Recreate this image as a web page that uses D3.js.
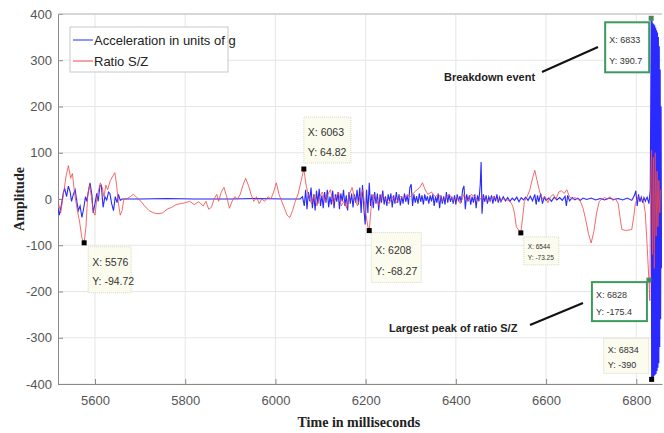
<!DOCTYPE html>
<html>
<head>
<meta charset="utf-8">
<script src="https://cdn.jsdelivr.net/npm/d3@7"></script>
<style>
  body { margin: 0; background: #fff; }
  svg { display: block; }
</style>
</head>
<body>
<div id="chart"></div>
<script>
// Acceleration in units of g: [time in ms, amplitude]
const accel = [
  [5518, -20], [5521, -35], [5526, -10], [5530, 15], [5533, 22], [5537, 5], [5541, 28], [5545, 15],
  [5548, -5], [5552, 10], [5556, 20], [5559, 0], [5563, -25], [5567, -15], [5571, -40], [5575, -20],
  [5579, 5], [5582, -5], [5586, 20], [5589, 35], [5593, 10], [5596, -30], [5600, -10], [5604, 12],
  [5607, -5], [5611, 28], [5614, 30], [5618, -18], [5622, 5], [5626, -2], [5630, 15], [5633, 12],
  [5637, -10], [5641, -25], [5645, 5], [5649, -8], [5652, 10], [5656, -3], [5660, 0], [5700, 0],
  [5760, 1], [5820, 0], [5900, 0], [5960, 1], [6020, 0], [6055, 0],
  [6060, 5], [6064, -15], [6067, 20], [6070, -22], [6073, 15], [6076, -5], [6079, 25], [6082, -20],
  [6085, 10], [6088, -25], [6091, 18], [6094, -10], [6097, 22], [6100, -15], [6103, 8], [6106, -20],
  [6109, 15], [6112, -8], [6115, 20], [6118, -18], [6121, 5], [6124, -12], [6127, 18], [6130, -20],
  [6133, 10], [6136, -6], [6139, 15], [6142, -22], [6145, 12], [6148, -5], [6151, 20], [6154, -15],
  [6157, 8], [6160, -25], [6163, 15], [6166, -10], [6169, 12], [6172, -18], [6175, 10], [6178, -8],
  [6181, 20], [6184, -12], [6187, 25], [6190, -30], [6193, 30], [6196, -20], [6199, -55], [6202, 20],
  [6205, -30], [6208, 35], [6211, -15], [6214, 10], [6217, -20], [6220, 15], [6223, -10], [6226, 12],
  [6229, -25], [6232, 10], [6235, -8], [6238, 18], [6241, -12], [6244, 6], [6247, -15], [6250, 10],
  [6253, -5], [6256, 12], [6259, -18], [6262, 8], [6265, -10], [6268, 15], [6271, -8], [6274, 10],
  [6277, -14], [6280, 6], [6283, -10], [6286, 12], [6289, -6], [6292, 8], [6295, -12], [6298, 25],
  [6301, 32], [6304, -15], [6307, 10], [6310, -8], [6313, 6], [6316, -10], [6319, 12], [6322, -6],
  [6325, 8], [6328, -12], [6331, 10], [6334, -4], [6337, 6], [6340, -10], [6343, 8], [6346, -5],
  [6349, 10], [6352, -15], [6355, 5], [6358, -8], [6361, 12], [6364, -20], [6367, 8], [6370, -10],
  [6373, 6], [6376, -12], [6379, 15], [6382, -8], [6385, 10], [6388, -6], [6391, 5], [6394, -10],
  [6397, 8], [6400, -12], [6403, 10], [6406, -5], [6409, 6], [6412, -8], [6415, 20], [6418, 28],
  [6421, -22], [6424, 10], [6427, -5], [6430, 8], [6433, -12], [6436, 5], [6439, -8], [6442, 10],
  [6445, -20], [6448, 8], [6451, -5], [6454, 30], [6456, 80], [6458, -32], [6461, 10], [6464, -6],
  [6467, 8], [6470, -10], [6473, 5], [6476, -4], [6479, 8], [6482, -10], [6485, 6], [6488, -5],
  [6491, 10], [6494, -8], [6497, 4], [6500, -6], [6505, 5], [6510, -4], [6515, 3], [6520, -5],
  [6525, 2], [6530, -3], [6535, 4], [6540, -6], [6545, 3], [6550, -2], [6555, 4], [6560, -3],
  [6565, 6], [6570, -4], [6575, 10], [6578, -12], [6581, 8], [6584, -6], [6588, 12], [6592, -10],
  [6596, 4], [6600, -3], [6606, 2], [6612, -5], [6618, 4], [6624, -2], [6630, 3], [6636, -3],
  [6642, 6], [6645, -15], [6648, 8], [6652, -4], [6658, 3], [6664, -2], [6670, 2], [6676, -3],
  [6682, 2], [6690, -1], [6700, 2], [6710, -2], [6720, 1], [6730, -2], [6740, 2], [6750, -1],
  [6760, 1], [6770, -2], [6780, 2], [6790, -3], [6796, 8], [6799, 18], [6802, -15], [6805, 10],
  [6808, -6], [6811, 4], [6814, -8], [6817, 3], [6820, -5], [6824, 4], [6828, -10], [6831, 20],
  [6833, 390.7], [6834, -390], [6835, 385], [6836, -388], [6837, 380], [6838, -385], [6839, 378],
  [6840, -382], [6841, 375], [6842, -380], [6843, 370], [6844, -378], [6845, 365], [6846, -372],
  [6847, 360], [6848, -365], [6849, 350], [6850, -355], [6851, 330], [6852, -320], [6853, 280],
  [6854, -260], [6855, 200], [6856, -150]
];

// Ratio S/Z: [time in ms, amplitude]
const ratio = [
  [5518, -5], [5524, -30], [5530, 10], [5536, 50], [5541, 72], [5546, 45], [5550, 55], [5555, 10],
  [5560, -20], [5566, -50], [5571, -85], [5576, -94.72], [5580, -60], [5584, 10], [5588, 30], [5592, 5],
  [5596, -25], [5600, -35], [5604, 0], [5608, 20], [5612, 35], [5616, 25], [5620, 5], [5624, 30],
  [5628, 20], [5634, 40], [5640, 50], [5644, 57], [5648, 30], [5652, -10], [5656, -35], [5660, -25],
  [5664, 0], [5670, 0], [5678, 5], [5685, 10], [5690, 6], [5696, 0], [5702, -5], [5710, -15],
  [5720, -25], [5730, -30], [5740, -32], [5750, -30], [5760, -22], [5770, -18], [5780, -12], [5790, -10],
  [5800, -8], [5810, -5], [5820, -12], [5830, -6], [5840, -15], [5846, -5], [5852, -22], [5858, -18],
  [5864, 0], [5870, 10], [5874, -5], [5880, 15], [5886, 25], [5892, 5], [5898, -20], [5904, -5],
  [5910, 5], [5916, 0], [5922, 10], [5928, 30], [5934, 45], [5940, 30], [5946, 10], [5952, -5],
  [5958, 5], [5964, -10], [5970, 0], [5976, -5], [5984, 5], [5990, 0], [5996, 15], [6002, 35],
  [6008, 10], [6014, -5], [6020, -20], [6026, -35], [6032, -40], [6038, -25], [6044, -5], [6050, 10],
  [6056, 35], [6063, 64.82], [6068, 30], [6074, 5], [6080, -10], [6086, 10], [6092, -15], [6098, 5],
  [6104, 15], [6110, -5], [6116, 10], [6122, 20], [6128, -10], [6134, 5], [6140, 15], [6146, -15],
  [6152, -5], [6158, -20], [6164, 10], [6170, 25], [6176, 0], [6182, -15], [6188, 5], [6194, 20],
  [6200, -30], [6205, -60], [6208, -68.27], [6212, -20], [6218, 10], [6224, 0], [6230, -15], [6236, 10],
  [6244, 0], [6252, -10], [6260, 5], [6268, -8], [6276, 6], [6284, 0], [6292, 10], [6300, 5],
  [6308, 15], [6314, 20], [6320, 25], [6326, 35], [6332, 20], [6338, 10], [6346, 15], [6354, 5],
  [6362, 10], [6370, -5], [6378, 5], [6386, 10], [6394, -5], [6402, 5], [6410, -10], [6418, 10],
  [6426, -5], [6434, 10], [6442, 5], [6450, -5], [6458, 5], [6466, 0], [6474, -5], [6482, 5],
  [6490, 0], [6498, -3], [6506, 0], [6514, -2], [6520, -5], [6526, -15], [6530, -30], [6534, -60],
  [6540, -68], [6544, -73.25], [6548, -40], [6552, -5], [6558, 5], [6564, 20], [6570, 45], [6575, 62],
  [6580, 40], [6586, 15], [6592, 0], [6598, 5], [6604, -8], [6610, 5], [6616, 10], [6622, 0],
  [6628, 15], [6634, 18], [6640, 12], [6646, 20], [6652, 5], [6658, 0], [6664, 3], [6670, 0],
  [6676, -5], [6682, -20], [6688, -45], [6694, -75], [6700, -95], [6706, -70], [6712, -30], [6718, -5],
  [6724, 0], [6730, 3], [6736, 0], [6742, 5], [6748, -3], [6754, 0], [6760, -10], [6764, -40],
  [6768, -66], [6776, -68], [6784, -67], [6790, -66], [6794, -40], [6798, -10], [6804, 5], [6810, 0],
  [6816, -5], [6820, -30], [6824, -100], [6828, -175.4], [6830, -220], [6832, 50], [6834, 105],
  [6836, -120], [6838, 90], [6840, -150], [6842, 100], [6844, -80], [6846, 60], [6848, -60],
  [6850, 40], [6852, -30], [6854, 20]
];

// Data tips
const tipX = [5576, 6063, 6208, 6544, 6828, 6834, 6833];
const tipY = [-94.72, 64.82, -68.27, -73.25, -175.4, -390, 390.7];
const tipLabelX = ["X: 5576", "X: 6063", "X: 6208", "X: 6544", "X: 6828", "X: 6834", "X: 6833"];
const tipLabelY = ["Y: -94.72", "Y: 64.82", "Y: -68.27", "Y: -73.25", "Y: -175.4", "Y: -390", "Y: 390.7"];

const xTicks = [5600, 5800, 6000, 6200, 6400, 6600, 6800];
const yTicks = [-400, -300, -200, -100, 0, 100, 200, 300, 400];
const seriesNames = ["Acceleration in units of g", "Ratio S/Z"];

// box placement of each tip relative to its point (dx, dy, w, h, font size, highlighted)
const tipBoxes = [
  { dx: 4, dy: 4, w: 43, h: 46, fs: 10.5, hl: false },
  { dx: 0, dy: -52, w: 47, h: 46, fs: 10.5, hl: false },
  { dx: 2, dy: 2, w: 50, h: 50, fs: 10.5, hl: false },
  { dx: 3, dy: 4, w: 35, h: 28, fs: 6.5, hl: false },
  { dx: -57, dy: 2, w: 55, h: 39, fs: 9, hl: true },
  { dx: -48, dy: -41, w: 45, h: 35, fs: 9, hl: false },
  { dx: -46, dy: 4, w: 44, h: 50, fs: 9, hl: true }
];

const width = 664, height = 433;
const margin = { top: 14, right: 2, bottom: 49, left: 58 };
const innerW = width - margin.left - margin.right;
const innerH = height - margin.top - margin.bottom;

const svg = d3.select("#chart").append("svg")
  .attr("width", width)
  .attr("height", height);

const g = svg.append("g")
  .attr("transform", "translate(" + margin.left + "," + margin.top + ")");

const x = d3.scaleLinear().domain([5518, 6857]).range([0, innerW]);
const y = d3.scaleLinear().domain([-400, 400]).range([innerH, 0]);

// grid
g.append("g").selectAll("line").data(xTicks).enter().append("line")
  .attr("x1", d => x(d)).attr("x2", d => x(d))
  .attr("y1", 0).attr("y2", innerH)
  .attr("stroke", "#e6e6e6").attr("stroke-width", 1);
g.append("g").selectAll("line").data(yTicks).enter().append("line")
  .attr("x1", 0).attr("x2", innerW)
  .attr("y1", d => y(d)).attr("y2", d => y(d))
  .attr("stroke", "#e6e6e6").attr("stroke-width", 1);

// axes
const tickFont = "'Liberation Sans Narrow', 'Arial Narrow', 'Liberation Sans', Arial, sans-serif";
const xAxis = g.append("g")
  .attr("transform", "translate(0," + innerH + ")")
  .call(d3.axisBottom(x).tickValues(xTicks).tickSizeInner(-5).tickSizeOuter(0).tickPadding(12).tickFormat(d => String(d)));
const yAxis = g.append("g")
  .call(d3.axisLeft(y).tickValues(yTicks).tickSizeInner(-5).tickSizeOuter(0).tickPadding(6).tickFormat(d => String(d)));
[xAxis, yAxis].forEach(ax => {
  ax.selectAll("path").attr("stroke", "#8a8a8a");
  ax.selectAll("line").attr("stroke", "#8a8a8a");
  ax.selectAll("text").attr("fill", "#555").style("font-family", tickFont).style("font-size", "13px");
});
// top border
g.append("line").attr("x1", 0).attr("x2", innerW).attr("y1", 0).attr("y2", 0)
  .attr("stroke", "#bbb");

// lines
g.append("clipPath").attr("id", "clip").append("rect")
  .attr("width", innerW).attr("height", innerH + 1).attr("y", -1);
const line = d3.line().x(d => x(d[0])).y(d => y(d[1]));
const plot = g.append("g").attr("clip-path", "url(#clip)");
plot.append("path").datum(accel)
  .attr("d", line).attr("fill", "none")
  .attr("stroke", "#2a2aff").attr("stroke-width", 1.1);
plot.append("path").datum(ratio)
  .attr("d", line).attr("fill", "none")
  .attr("stroke", "#f04848").attr("stroke-width", 0.9).attr("stroke-opacity", 0.9);

// data tips
const tipFont = "'Liberation Sans Narrow', 'Arial Narrow', 'Liberation Sans', Arial, sans-serif";
tipX.forEach((tx, i) => {
  const b = tipBoxes[i];
  const px = x(tx), py = y(tipY[i]);
  const box = g.append("g").attr("transform", "translate(" + (px + b.dx) + "," + (py + b.dy) + ")");
  box.append("rect")
    .attr("width", b.w).attr("height", b.h)
    .attr("fill", b.hl ? "#ffffff" : "#fbfbee")
    .attr("stroke", b.hl ? "#3c9a5c" : "#d8d8c8")
    .attr("stroke-width", b.hl ? 2 : 1)
    .attr("stroke-dasharray", b.hl ? null : "1,1");
  box.append("text").attr("x", 4).attr("y", b.h * 0.42)
    .style("font-family", tipFont).style("font-size", b.fs + "px").attr("fill", "#333")
    .text(tipLabelX[i]);
  box.append("text").attr("x", 4).attr("y", b.h * 0.84)
    .style("font-family", tipFont).style("font-size", b.fs + "px").attr("fill", "#333")
    .text(tipLabelY[i]);
  g.append("rect")
    .attr("x", px - 2.5).attr("y", py - 2.5).attr("width", 5).attr("height", 5)
    .attr("fill", b.hl ? "#4a8a5a" : "#000");
});

// text notes with pointer lines
const noteFont = "'Liberation Sans Narrow', 'Arial Narrow', 'Liberation Sans', Arial, sans-serif";
svg.append("text").attr("x", 444).attr("y", 81)
  .style("font-family", noteFont).style("font-size", "11px").style("font-weight", "bold")
  .attr("fill", "#222").text("Breakdown event");
svg.append("line").attr("x1", 542).attr("y1", 72).attr("x2", 598).attr("y2", 47)
  .attr("stroke", "#111").attr("stroke-width", 2);
svg.append("text").attr("x", 389).attr("y", 332)
  .style("font-family", noteFont).style("font-size", "11px").style("font-weight", "bold")
  .attr("fill", "#222").text("Largest peak of ratio S/Z");
svg.append("line").attr("x1", 530).attr("y1", 325).attr("x2", 583).attr("y2", 303)
  .attr("stroke", "#111").attr("stroke-width", 2);

// legend
const legend = g.append("g").attr("transform", "translate(12,13)");
legend.append("rect").attr("width", 158).attr("height", 45)
  .attr("fill", "#fff").attr("stroke", "#c8c8c8");
const legendColors = ["#2a2aff", "#f04848"];
seriesNames.forEach((name, i) => {
  legend.append("line").attr("x1", 3).attr("x2", 23)
    .attr("y1", 13 + i * 21).attr("y2", 13 + i * 21)
    .attr("stroke", legendColors[i]).attr("stroke-width", 1);
  legend.append("text").attr("x", 24).attr("y", 18 + i * 21)
    .style("font-family", tickFont).style("font-size", "13px").attr("fill", "#222")
    .text(name);
});

// axis titles
svg.append("text")
  .attr("x", margin.left + x(6185)).attr("y", 427)
  .attr("text-anchor", "middle")
  .style("font-family", "'Liberation Serif', 'Times New Roman', serif")
  .style("font-size", "14px").style("font-weight", "bold").attr("fill", "#222")
  .text("Time in milliseconds");
svg.append("text")
  .attr("transform", "translate(24," + (margin.top + y(0)) + ") rotate(-90)")
  .attr("text-anchor", "middle")
  .style("font-family", "'Liberation Serif', 'Times New Roman', serif")
  .style("font-size", "14px").style("font-weight", "bold").attr("fill", "#222")
  .text("Amplitude");
</script>
</body>
</html>
